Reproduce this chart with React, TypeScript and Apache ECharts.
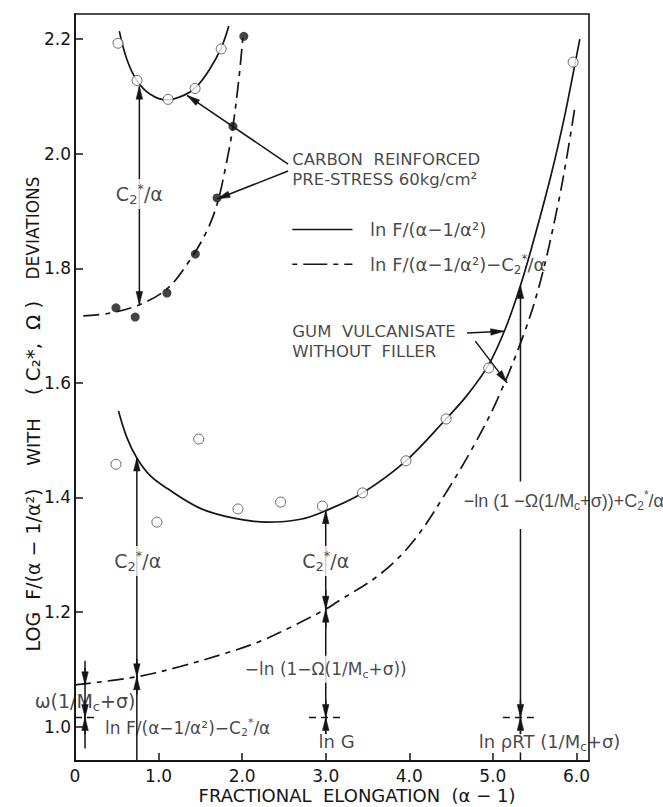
import React, { useEffect, useRef } from 'react';
import * as echarts from 'echarts';

// ---- tick values ----
const xTicks = [0, 1, 2, 3, 4, 5, 6];
const yTicks = [1.0, 1.2, 1.4, 1.6, 1.8, 2.0, 2.2];

// ---- carbon reinforced (pre-stress 60 kg/cm2) ----
const carbonSolidCurve = [
  [0.53, 2.214], [0.62, 2.165], [0.74, 2.128], [0.9, 2.104], [1.1, 2.094],
  [1.3, 2.102], [1.44, 2.115], [1.6, 2.145], [1.75, 2.185], [1.84, 2.223],
];
const carbonOpen = [
  [0.515, 2.193], [0.742, 2.128], [1.114, 2.095], [1.437, 2.114], [1.749, 2.183],
];
const carbonDashCurve = [
  [0.1, 1.717], [0.42, 1.722], [0.78, 1.737], [1.1, 1.764], [1.34, 1.807],
  [1.56, 1.86], [1.7, 1.912], [1.82, 1.99], [1.89, 2.048], [1.96, 2.13], [2.01, 2.205],
];
const carbonFilled = [
  [0.49, 1.731], [0.72, 1.715], [1.1, 1.757], [1.44, 1.825], [1.7, 1.923],
  [1.89, 2.048], [2.02, 2.205],
];

// ---- gum vulcanisate without filler ----
const gumSolidCurve = [
  [0.52, 1.551], [0.62, 1.505], [0.74, 1.469], [0.9, 1.438], [1.1, 1.416],
  [1.5, 1.381], [1.9, 1.364], [2.3, 1.357], [2.7, 1.362], [3.0, 1.377],
  [3.44, 1.408], [3.96, 1.464], [4.44, 1.537], [4.7, 1.58], [4.95, 1.632],
  [5.15, 1.695], [5.33, 1.77], [5.5, 1.855], [5.7, 1.965], [5.85, 2.06],
  [5.96, 2.14], [6.04, 2.2],
];
const gumOpen = [
  [0.49, 1.458], [0.98, 1.357], [1.48, 1.502], [1.95, 1.38], [2.46, 1.392],
  [2.96, 1.385], [3.44, 1.408], [3.96, 1.464], [4.44, 1.537], [4.95, 1.626],
  [5.96, 2.16],
];
const gumDashCurve = [
  [0, 1.073], [0.74, 1.087], [1.26, 1.105], [1.8, 1.128], [2.2, 1.148],
  [2.6, 1.175], [3.0, 1.205], [3.14, 1.218], [3.65, 1.266], [4.05, 1.324],
  [4.45, 1.411], [4.77, 1.49], [5.05, 1.57], [5.37, 1.685], [5.57, 1.778],
  [5.77, 1.905], [5.89, 1.999], [5.98, 2.08],
];

// ---- construction segments: [x1, y1, x2, y2, headAtStart, headAtEnd, dashStyle] ----
const segments = [
  // carbon C2*/alpha
  [0.77, 1.737, 0.77, 2.118, 1, 1, 0],
  // gum C2*/alpha at alpha-1 ~ 0.74
  [0.74, 0.94, 0.74, 1.469, 0, 1, 0],
  [0.74, 1.118, 0.74, 1.087, 0, 1, 0],
  [0.74, 1.056, 0.74, 1.087, 0, 1, 0],
  // small intercept arrow near 0
  [0.12, 0.962, 0.12, 1.115, 0, 0, 0],
  [0.12, 1.103, 0.12, 1.073, 0, 1, 0],
  [0.12, 1.046, 0.12, 1.016, 0, 1, 0],
  [0.12, 0.986, 0.12, 1.016, 0, 1, 0],
  [0.0, 1.016, 0.24, 1.016, 0, 0, 1],
  // alpha-1 = 3
  [3.0, 0.987, 3.0, 1.377, 0, 1, 0],
  [3.0, 1.238, 3.0, 1.205, 0, 1, 0],
  [3.0, 1.172, 3.0, 1.205, 0, 1, 0],
  [3.0, 1.047, 3.0, 1.016, 0, 1, 0],
  [3.0, 0.987, 3.0, 1.016, 0, 1, 0],
  [2.8, 1.016, 3.23, 1.016, 0, 0, 1],
  // alpha-1 = 5.33
  [5.33, 1.428, 5.33, 1.77, 0, 1, 0],
  [5.33, 0.987, 5.33, 1.345, 0, 0, 0],
  [5.33, 1.047, 5.33, 1.016, 0, 1, 0],
  [5.33, 0.987, 5.33, 1.016, 0, 1, 0],
  [5.12, 1.016, 5.53, 1.016, 0, 0, 1],
  [5.33, 0.94, 5.33, 0.955, 0, 0, 0],
  // pointer arrows of the text labels
  [2.55, 1.982, 1.34, 2.102, 0, 1, 0],
  [2.55, 1.97, 1.7, 1.921, 0, 1, 0],
  [4.69, 1.687, 5.13, 1.69, 0, 1, 0],
  [4.79, 1.673, 5.17, 1.6, 0, 1, 0],
  // key lines
  [2.6, 1.868, 3.32, 1.868, 0, 0, 0],
  [2.6, 1.807, 3.32, 1.807, 0, 0, 2],
];

const C2 = 'C{sb|2}{sp|*}/α';
const MC = 'M{sb|c}';

// text notes placed in data coordinates
const notes = [
  { pos: [0.77, 1.93], text: C2, align: 'center', size: 19, bg: true },
  { pos: [0.75, 1.289], text: C2, align: 'center', size: 19, bg: true },
  { pos: [3.0, 1.289], text: C2, align: 'center', size: 19, bg: true },
  { pos: [2.6, 1.99], text: 'CARBON  REINFORCED', align: 'left', size: 16.5, lh: 16 },
  { pos: [2.6, 1.955], text: 'PRE-STRESS 60kg/cm²', align: 'left', size: 16.5, lh: 16 },
  { pos: [3.53, 1.868], text: 'ln F/(α−1/α²)', align: 'left', size: 18 },
  { pos: [3.53, 1.807], text: 'ln F/(α−1/α²)−' + C2, align: 'left', size: 18 },
  { pos: [2.6, 1.69], text: 'GUM  VULCANISATE', align: 'left', size: 16.5, lh: 16 },
  { pos: [2.6, 1.655], text: 'WITHOUT  FILLER', align: 'left', size: 16.5, lh: 16 },
  { pos: [0.12, 1.045], text: 'ω(1/' + MC + '+σ)', align: 'center', size: 19 },
  { pos: [0.36, 0.998], text: 'ln F/(α−1/α²)−' + C2, align: 'left', size: 17 },
  { pos: [3.0, 1.1], text: '−ln (1−Ω(1/' + MC + '+σ))', align: 'center', size: 17, bg: true },
  { pos: [3.13, 0.974], text: 'ln G', align: 'center', size: 18 },
  { pos: [4.83, 0.974], text: 'ln ρRT (1/' + MC + '+σ)', align: 'left', size: 18 },
  { pos: [4.65, 1.394], text: '−ln (1 −Ω(1/' + MC + '+σ))+' + C2, align: 'left', size: 18, font: 'Liberation Sans' },
];

const INK = '#151515';
const FONT = 'DejaVu Sans';
const DASHDOT = [16, 6, 5, 6];

function richFor(size: number, font: string) {
  const small = Math.round(size * 0.66);
  return {
    sb: { fontSize: small, fontFamily: font, color: INK, verticalAlign: 'bottom', padding: [6, 0, 0, 0] },
    sp: { fontSize: small, fontFamily: font, color: INK, verticalAlign: 'top', padding: [0, 0, 6, 0] },
  };
}

function renderSegment(params: any, api: any) {
  const p1 = api.coord([api.value(0), api.value(1)]);
  const p2 = api.coord([api.value(2), api.value(3)]);
  const hs = api.value(4);
  const he = api.value(5);
  const dash = api.value(6);
  const lineDash = dash === 1 ? [7, 5] : dash === 2 ? [5, 6, 24, 6] : null;
  const children: any[] = [
    {
      type: 'line',
      shape: { x1: p1[0], y1: p1[1], x2: p2[0], y2: p2[1] },
      style: { stroke: INK, lineWidth: 1.5, lineDash },
    },
  ];
  const head = (tip: number[], from: number[]) => {
    const dx = tip[0] - from[0];
    const dy = tip[1] - from[1];
    const L = Math.hypot(dx, dy) || 1;
    const ux = dx / L;
    const uy = dy / L;
    const len = 13;
    const w = 3.3;
    const bx = tip[0] - ux * len;
    const by = tip[1] - uy * len;
    return {
      type: 'polygon',
      shape: { points: [[tip[0], tip[1]], [bx - uy * w, by + ux * w], [bx + uy * w, by - ux * w]] },
      style: { fill: INK, stroke: INK, lineWidth: 0.5 },
    };
  };
  if (he) children.push(head(p2, p1));
  if (hs) children.push(head(p1, p2));
  return { type: 'group', children };
}

export default function App() {
  const ref = useRef<HTMLDivElement>(null);

  useEffect(() => {
    const chart = echarts.init(ref.current as HTMLDivElement, null, { renderer: 'svg' });

    const curve = (data: number[][], type: any) => ({
      type: 'line',
      data,
      showSymbol: false,
      smooth: 0.35,
      silent: true,
      z: 2,
      lineStyle: { color: INK, width: 1.7, type },
    });

    const option: any = {
      animation: false,
      backgroundColor: '#fff',
      grid: {
        left: 75, right: 74, top: 14, bottom: 46,
        show: true, borderColor: INK, borderWidth: 1.6, backgroundColor: 'transparent',
      },
      xAxis: {
        type: 'value', min: 0, max: 6.15,
        axisLine: { show: true, onZero: false, lineStyle: { color: INK, width: 1.8 } },
        axisTick: { show: true, inside: true, length: 8, customValues: xTicks, lineStyle: { color: INK, width: 1.5 } },
        axisLabel: {
          customValues: xTicks, margin: 6, color: INK, fontSize: 17, fontFamily: FONT,
          formatter: (v: number) => (v === 0 ? '0' : v.toFixed(1)),
        },
        splitLine: { show: false },
      },
      yAxis: {
        type: 'value', min: 0.94, max: 2.244,
        axisLine: { show: true, onZero: false, lineStyle: { color: INK, width: 1.8 } },
        axisTick: { show: true, inside: true, length: 8, customValues: yTicks, lineStyle: { color: INK, width: 1.5 } },
        axisLabel: {
          customValues: yTicks, margin: 4, color: INK, fontSize: 17, fontFamily: FONT,
          formatter: (v: number) => v.toFixed(1),
        },
        splitLine: { show: false },
      },
      series: [
        curve(carbonSolidCurve, 'solid'),
        curve(carbonDashCurve, DASHDOT),
        curve(gumSolidCurve, 'solid'),
        curve(gumDashCurve, DASHDOT),
        {
          type: 'scatter', data: carbonOpen, symbol: 'circle', symbolSize: 10, silent: true, z: 4,
          itemStyle: { color: '#fff', borderColor: '#444', borderWidth: 1 },
        },
        {
          type: 'scatter', data: gumOpen, symbol: 'circle', symbolSize: 10, silent: true, z: 4,
          itemStyle: { color: '#fff', borderColor: '#444', borderWidth: 1 },
        },
        {
          type: 'scatter', data: carbonFilled, symbol: 'circle', symbolSize: 9, silent: true, z: 4,
          itemStyle: { color: INK },
        },
        {
          type: 'custom', coordinateSystem: 'cartesian2d', data: segments,
          encode: { x: [0, 2], y: [1, 3] }, renderItem: renderSegment, silent: true, z: 3, clip: false,
        },
        {
          type: 'scatter', silent: true, z: 6, symbol: 'circle', symbolSize: 1,
          itemStyle: { color: 'transparent' },
          data: notes.map((n: any) => {
            const font = n.font || FONT;
            return {
              value: n.pos,
              label: {
                show: true,
                position: 'inside',
                formatter: n.text,
                align: n.align,
                verticalAlign: 'middle',
                color: INK,
                fontFamily: font,
                fontSize: n.size,
                lineHeight: n.lh || Math.round(n.size * 1.25),
                backgroundColor: n.bg ? '#fff' : 'transparent',
                padding: n.bg ? [3, 2, 3, 2] : 0,
                textBorderWidth: 0,
                rich: richFor(n.size, font),
              },
            };
          }),
        },
      ],
      graphic: [
        {
          type: 'text', x: 33, y: 228, rotation: Math.PI / 2,
          style: { text: 'DEVIATIONS', fontSize: 17, fontFamily: FONT, fill: INK, align: 'center', verticalAlign: 'middle' },
        },
        {
          type: 'text', x: 33, y: 348, rotation: Math.PI / 2,
          style: { text: '( C₂*,  Ω )', fontSize: 20, fontFamily: FONT, fill: INK, align: 'center', verticalAlign: 'middle' },
        },
        {
          type: 'text', x: 33, y: 442, rotation: Math.PI / 2,
          style: { text: 'WITH', fontSize: 18, fontFamily: FONT, fill: INK, align: 'center', verticalAlign: 'middle' },
        },
        {
          type: 'text', x: 33, y: 570, rotation: Math.PI / 2,
          style: { text: 'LOG  F/(α − 1/α²)', fontSize: 19, fontFamily: FONT, fill: INK, align: 'center', verticalAlign: 'middle' },
        },
        {
          type: 'text', x: 357, y: 795,
          style: { text: 'FRACTIONAL  ELONGATION  (α − 1)', fontSize: 18, fontFamily: FONT, fill: INK, align: 'center', verticalAlign: 'middle' },
        },
      ],
    };

    chart.setOption(option);
    return () => chart.dispose();
  }, []);

  return (
    <div
      ref={ref}
      style={{ position: 'fixed', left: 0, top: 0, width: 663, height: 807, background: '#fff' }}
    />
  );
}
